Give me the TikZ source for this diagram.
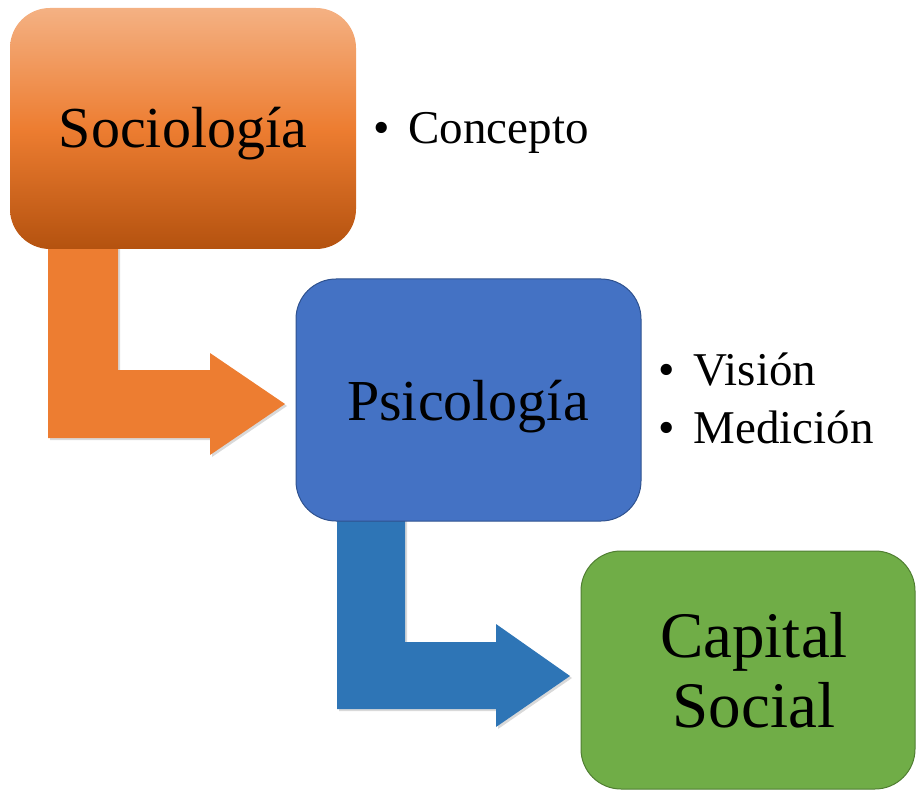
\documentclass[tikz,border=0pt]{standalone}
\usepackage{fontspec}
\setmainfont{Liberation Serif}
\usetikzlibrary{shadows}
\definecolor{naranja}{HTML}{ED7D31}
\definecolor{naranjaclaro}{HTML}{F4B183}
\definecolor{naranjaoscuro}{HTML}{B4520F}
\definecolor{azul}{HTML}{4472C4}
\definecolor{azulborde}{HTML}{2F528F}
\definecolor{azulflecha}{HTML}{2E75B6}
\definecolor{verde}{HTML}{70AD47}
\definecolor{verdeborde}{HTML}{507E32}
\tikzset{
	caja/.style={rounded corners=40pt, inner sep=0pt},
	titulo/.style={anchor=base, font=\fontsize{58}{60}\selectfont},
	punto/.style={anchor=base west, font=\fontsize{47}{50}\selectfont},
	sombra/.style={drop shadow={opacity=.3, shadow xshift=2pt, shadow yshift=-2pt}},
}
\begin{document}
\begin{tikzpicture}[x=1pt, y=-1pt]
	\useasboundingbox (0,0) rectangle (917,791);
	
	% Arrows
	\coordinate (A1) at (48,240);
	\coordinate (A2) at (118,240);
	\coordinate (A3) at (118,370);
	\coordinate (A4) at (210,370);
	\coordinate (A5) at (210,353);
	\coordinate (A6) at (285,404);
	\coordinate (A7) at (210,455);
	\coordinate (A8) at (210,438);
	\coordinate (A9) at (48,438);
	\fill[naranja, sombra] (A1) -- (A2) -- (A3) -- (A4) -- (A5) -- (A6) -- (A7) -- (A8) -- (A9) -- cycle;
	
	\coordinate (B1) at (337,512);
	\coordinate (B2) at (405,512);
	\coordinate (B3) at (405,642);
	\coordinate (B4) at (496,642);
	\coordinate (B5) at (496,624);
	\coordinate (B6) at (570,676);
	\coordinate (B7) at (496,727);
	\coordinate (B8) at (496,709);
	\coordinate (B9) at (337,709);
	\fill[azulflecha, sombra] (B1) -- (B2) -- (B3) -- (B4) -- (B5) -- (B6) -- (B7) -- (B8) -- (B9) -- cycle;
	
	% Boxes
	\node[caja, minimum width=346pt, minimum height=241pt, top color=naranjaclaro, bottom color=naranjaoscuro, middle color=naranja] (soc) at (183,128.5) {};
	\node[caja, minimum width=345pt, minimum height=242pt, fill=azul, draw=azulborde, line width=1pt] (psi) at (468.5,400) {};
	\node[caja, minimum width=334pt, minimum height=238pt, fill=verde, draw=verdeborde, line width=1pt] (cap) at (748,670) {};
	
	% Labels
	\node[titulo] (socT) at (183,148) {Sociología};
	\node[titulo] (psiT) at (468,420) {Psicología};
	\node[titulo, font=\fontsize{65}{70}\selectfont] (capT) at (754,657) {Capital};
	\node[titulo, font=\fontsize{65}{70}\selectfont] (socialT) at (754,727) {Social};
	
	\node[punto] (concepto) at (370,144) {\makebox[35pt][l]{\textbullet}Concepto};
	\node[punto] (vision) at (655,385) {\makebox[35pt][l]{\textbullet}Visión};
	\node[punto] (medicion) at (655,443) {\makebox[35pt][l]{\textbullet}Medición};
\end{tikzpicture}
\end{document}
